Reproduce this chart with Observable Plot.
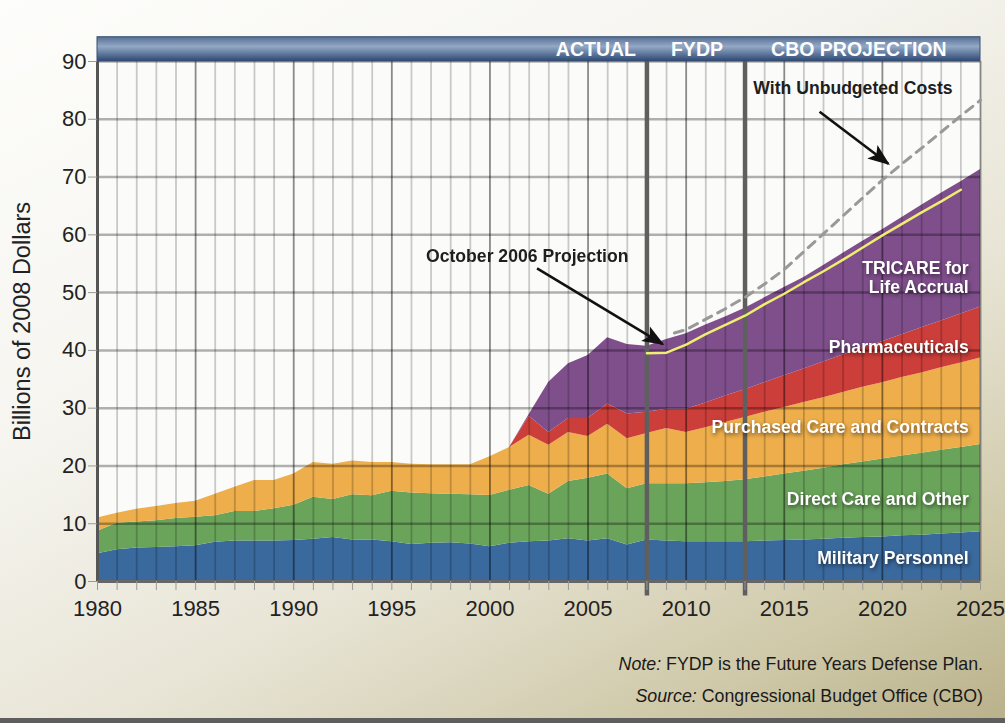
<!DOCTYPE html>
<html><head><meta charset="utf-8">
<script src="https://cdn.jsdelivr.net/npm/d3@7"></script>
<script src="https://cdn.jsdelivr.net/npm/@observablehq/plot@0.6"></script>
<style>
html,body{margin:0;padding:0;}
body{width:1005px;height:723px;overflow:hidden;position:relative;font-family:"Liberation Sans",Arial,Helvetica,sans-serif;
background:linear-gradient(152deg,#fdfdfb 0%,#f6f5f0 35%,#e8e5d6 62%,#cfc9a9 85%,#b9b18a 100%);}
#chart{position:absolute;left:0;top:0;}
.note{position:absolute;right:22px;font-size:17.8px;color:#1a1a1a;line-height:20px;}
#bar{position:absolute;left:0;right:0;top:718px;height:5px;background:#5e5e5e;}
g[aria-label="text"][fill="white"]{filter:drop-shadow(1px 2px 2px rgba(0,0,0,0.55));}
</style></head><body>
<div id="chart"></div>
<div class="note" style="top:654px"><i>Note:</i> FYDP is the Future Years Defense Plan.</div>
<div class="note" style="top:686px"><i>Source:</i> Congressional Budget Office (CBO)</div>
<div id="bar"></div>
<script>
const years = d3.range(1980, 2026);
const seriesNames = ["Military Personnel","Direct Care and Other","Purchased Care and Contracts","Pharmaceuticals","TRICARE for Life Accrual"];
const seriesColors = ["#3a699d","#6aa45a","#eeae4b","#cc3e3a","#7f4f8c"];
const militaryPersonnel = [4.8,5.5,5.8,5.9,6.0,6.2,6.8,7.0,7.0,7.0, 7.1,7.3,7.6,7.2,7.2,6.9,6.4,6.6,6.7,6.5, 6.0,6.6,6.9,7.0,7.4,7.0,7.4,6.3,7.2,7.0, 6.9,6.9,6.9,6.9,7.0,7.1,7.2,7.3,7.5,7.6, 7.7,7.9,8.0,8.2,8.4,8.6];
const directCare = [3.9,4.6,4.5,4.6,4.9,4.9,4.6,5.1,5.1,5.6, 6.1,7.3,6.6,7.8,7.65,8.7,8.9,8.6,8.4,8.5, 8.9,9.2,9.7,8.1,9.9,10.85,11.2,9.75,9.7,9.9, 10.0,10.2,10.4,10.7,11.1,11.5,11.9,12.3,12.7,13.1, 13.5,13.8,14.2,14.5,14.8,15.1];
const purchasedCare = [2.3,1.7,2.2,2.5,2.6,2.8,3.7,4.2,5.4,4.9, 5.4,6.0,6.1,5.85,5.75,5.0,5.0,5.0,5.1,5.2, 6.7,7.4,8.7,8.5,8.5,7.25,8.6,8.65,8.7,9.6, 8.9,9.5,10.2,10.8,11.2,11.5,11.9,12.2,12.5,12.9, 13.2,13.6,13.9,14.3,14.6,15.0];
const pharmaceuticals = [0,0,0,0,0,0,0,0,0,0, 0,0,0,0,0,0,0,0,0,0, 0,0,3.3,2.2,2.4,3.1,3.5,4.3,3.7,3.3, 4.0,4.3,4.6,4.8,5.1,5.5,5.8,6.2,6.5,6.8, 7.1,7.4,7.8,8.1,8.5,8.8];
const tricareAccrual = [0,0,0,0,0,0,0,0,0,0, 0,0,0,0,0,0,0,0,0,0, 0,0,0.3,8.7,9.5,10.9,11.5,12.0,11.4,12.1, 13.1,13.5,13.7,14.1,14.7,15.3,15.8,16.7,17.6,18.5, 19.4,20.3,21.2,22.1,22.9,23.8];
const oct2006Years = [2008,2009,2010,2011,2012,2013,2014,2015,2016,2017,2018,2019,2020,2021,2022,2023,2024];
const oct2006Values = [39.5,39.6,41.0,42.8,44.4,46.0,48.0,49.8,51.8,53.7,55.7,57.8,59.9,61.9,63.9,65.8,67.8];
const unbudgetedYears = [2009.4,2010,2011,2012,2013,2014,2015,2016,2017,2018,2019,2020,2021,2022,2023,2024,2025];
const unbudgetedValues = [43.0,43.6,45.4,47.2,49.2,51.5,54.0,57.1,60.2,63.3,66.4,69.5,72.3,75.0,77.8,80.6,83.3];
const xTicks = [1980,1985,1990,1995,2000,2005,2010,2015,2020,2025];
const yTicks = [0,10,20,30,40,50,60,70,80,90];
const periodLabels = ["ACTUAL","FYDP","CBO PROJECTION"];
const periodBreaks = [2008, 2013];

const seriesArrays = [militaryPersonnel, directCare, purchasedCare, pharmaceuticals, tricareAccrual];
const data = [];
years.forEach((yr, i) => seriesArrays.forEach((arr, k) => data.push({year: yr, series: seriesNames[k], value: arr[i]})));
const oct2006 = oct2006Years.map((yr, i) => ({year: yr, value: oct2006Values[i]}));
const unbudgeted = unbudgetedYears.map((yr, i) => ({year: yr, value: unbudgetedValues[i]}));

const seriesLabels = [
  {text: "Military Personnel", x: 2024.4, y: 4.15},
  {text: "Direct Care and Other", x: 2024.4, y: 14.4},
  {text: "Purchased Care and Contracts", x: 2024.4, y: 26.8},
  {text: "Pharmaceuticals", x: 2024.4, y: 40.7},
  {text: "TRICARE for\nLife Accrual", x: 2024.4, y: 52.7}
];
const annotations = [
  {text: "With Unbudgeted Costs", x: 2018.5, y: 85.4, x1: 2016.8, y1: 81.3, x2: 2020.3, y2: 72.3},
  {text: "October 2006 Projection", x: 2001.9, y: 56.3, x1: 2002.4, y1: 54.2, x2: 2008.8, y2: 41.1}
];
const font = "'Liberation Sans', Arial, Helvetica, sans-serif";

const plot = Plot.plot({
  width: 1005, height: 640,
  marginLeft: 97, marginRight: 25, marginTop: 61, marginBottom: 59,
  style: {background: "transparent", fontFamily: font, fontSize: "22px", color: "#222", overflow: "visible"},
  x: {domain: [1980, 2025], label: null},
  y: {domain: [0, 90], label: null},
  color: {domain: seriesNames, range: seriesColors},
  marks: [
    Plot.frame({fill: "#fbfbfa", stroke: "none"}),
    Plot.areaY(data, {x: "year", y: "value", fill: "series"}),
    Plot.ruleY(yTicks.filter(v => v > 0), {x1: 1980, x2: 2025, stroke: "#000", strokeOpacity: 0.3, strokeWidth: 2.5}),
    Plot.ruleX(years.filter(d => d % 5 !== 0), {y1: 0, y2: 90, stroke: "#000", strokeOpacity: 0.2, strokeWidth: 1.8}),
    Plot.ruleX(xTicks, {y1: 0, y2: 90, stroke: "#000", strokeOpacity: 0.45, strokeWidth: 1.8}),
    Plot.ruleX(periodBreaks, {y1: -2.5, y2: 90, stroke: "#5f5f5f", strokeWidth: 4.5}),
    Plot.ruleX([1980], {y1: 0, y2: 90, stroke: "#555", strokeWidth: 3}),
    Plot.ruleY([0], {x1: 1980, x2: 2025, stroke: "#666", strokeWidth: 3}),
    Plot.axisX(years, {tickSize: 9, tickPadding: 10, stroke: "#999", fill: "#222", fontSize: 22, fontWeight: "normal", tickFormat: d => d % 5 === 0 ? String(d) : "", label: null}),
    Plot.axisY(yTicks, {tickSize: 9, tickPadding: 2, stroke: "#999", fill: "#222", fontSize: 22, fontWeight: "normal", label: null}),
    Plot.text(["Billions of 2008 Dollars"], {frameAnchor: "left", dx: -75, rotate: -90, textAnchor: "middle", fontSize: 23.5, fontWeight: "normal", fill: "#222"}),
    Plot.rect([0], {x1: 1980, x2: 2025, y1: 90, y2: 94.2, fill: "url(#hdrGrad)", stroke: "#3a4f70", strokeWidth: 1}),
    Plot.text(periodLabels, {x: [2005.4, 2010.55, 2018.8], y: 92.1, fill: "#fdfdfd", fontWeight: "bold", fontSize: 19.5}),
    Plot.line(unbudgeted, {x: "year", y: "value", stroke: "#999", strokeWidth: 3, strokeDasharray: "9,7"}),
    Plot.line(oct2006, {x: "year", y: "value", stroke: "#eeee70", strokeWidth: 2.5}),
    Plot.text(seriesLabels, {x: "x", y: "y", text: "text", textAnchor: "end", fill: "white", fontWeight: "bold", fontSize: 17.6, lineHeight: 1.1}),
    Plot.link(annotations, {x1: "x1", y1: "y1", x2: "x2", y2: "y2", stroke: "#111", strokeWidth: 2.6}),
    Plot.text(annotations, {x: "x", y: "y", text: "text", fill: "#1e1e1e", fontWeight: "bold", fontSize: 17.6})
  ]
});

const svg = d3.select(plot);
const defs = svg.insert("defs", ":first-child");
const g = defs.append("linearGradient").attr("id", "hdrGrad").attr("x1", 0).attr("y1", 0).attr("x2", 0).attr("y2", 1);
g.append("stop").attr("offset", "0%").attr("stop-color", "#566f95");
g.append("stop").attr("offset", "40%").attr("stop-color", "#93a8c5");
g.append("stop").attr("offset", "100%").attr("stop-color", "#2c4873");
defs.append("marker").attr("id", "arrowHead")
  .attr("viewBox", "-21 -10 24 20").attr("markerWidth", 24).attr("markerHeight", 20)
  .attr("markerUnits", "userSpaceOnUse").attr("refX", 0).attr("refY", 0).attr("orient", "auto")
  .append("path").attr("d", "M-20,-8.5L2,0L-20,8.5L-15,0Z").attr("fill", "#111");
svg.selectAll('g[aria-label="link"] path').attr("marker-end", "url(#arrowHead)");
document.getElementById("chart").appendChild(plot);
</script>
</body></html>
